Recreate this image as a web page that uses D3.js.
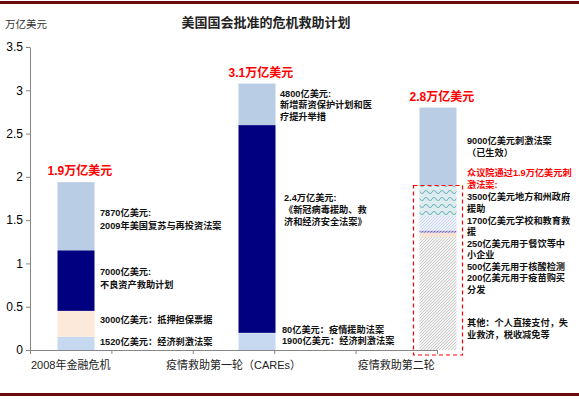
<!DOCTYPE html>
<html>
<head>
<meta charset="utf-8">
<script src="https://cdn.jsdelivr.net/npm/d3@7"></script>
<style>
  body { margin: 0; background: #fff; }
  text { font-family: "Liberation Sans", "Noto Sans CJK SC", sans-serif; }
</style>
</head>
<body>
<div id="chart"></div>
<script>
// data (units: trillion USD)
var categories = ['2008年金融危机', '疫情救助第一轮（CAREs）', '疫情救助第二轮'];
var totals = ['1.9万亿美元', '3.1万亿美元', '2.8万亿美元'];
// stacked segments, bottom to top
var seg2008 = [0.152, 0.300, 0.700, 0.787];
var segCares = [0.190, 0.008, 2.400, 0.480];
var segRound2 = [1.285, 0.020, 0.050, 0.025, 0.170, 0.350, 0.900];
var fill2008 = ['#c6d9f1', '#fde9d9', '#000080', '#b9cde5'];
var fillCares = ['#c6d9f1', '#c6d9f1', '#000080', '#b9cde5'];
var fillRound2 = ['url(#pGray)', 'url(#pGray)', '#f6e3d6', 'url(#pPurple)', 'url(#pBlue)', 'url(#pWave)', '#b9cde5'];
var yTicks = [0, 0.5, 1, 1.5, 2, 2.5, 3, 3.5];

// annotation text: [x, y, text, color]
var notes = [
  [100, 216, '7870亿美元:'], [100, 229, '2009年美国复苏与再投资法案'],
  [100, 275, '7000亿美元:'], [100, 288, '不良资产救助计划'],
  [100, 323, '3000亿美元：抵押担保票据'],
  [100, 345, '1520亿美元：经济刹激法案'],
  [280, 97, '4800亿美元:'], [280, 108, '新增薪资保护计划和医'], [280, 120, '疗提升举措'],
  [284, 201, '2.4万亿美元:'], [284, 213, '《新冠病毒援助、救'], [284, 225, '济和经济安全法案》'],
  [282, 333, '80亿美元：疫情援助法案'],
  [282, 344, '1900亿美元：经济刺激法案'],
  [467, 144, '9000亿美元刺激法案'], [467, 156, '（已生效）'],
  [467, 176, '众议院通过1.9万亿美元刺', '#ff0000'], [467, 188, '激法案:', '#ff0000'],
  [467, 200, '3500亿美元地方和州政府'], [467, 212, '援助'],
  [467, 224, '1700亿美元学校和教育救'], [467, 235, '援'],
  [467, 247, '250亿美元用于餐饮等中'], [467, 258, '小企业'],
  [467, 270, '500亿美元用于核酸检测'], [467, 281, '200亿美元用于疫苗购买'], [467, 293, '分发'],
  [467, 326, '其他：个人直接支付，失'], [467, 338, '业救济，税收减免等']
];

var W = 579, H = 399;
var svg = d3.select('#chart').append('svg').attr('width', W).attr('height', H);

// patterns
var defs = svg.append('defs');
var pg = defs.append('pattern').attr('id', 'pGray').attr('patternUnits', 'userSpaceOnUse')
  .attr('width', 3).attr('height', 3);
pg.append('rect').attr('width', 3).attr('height', 3).attr('fill', '#f3f3f3');
pg.append('path').attr('d', 'M0,3 L3,0').attr('stroke', '#c6c6c6').attr('stroke-width', 0.9);
var pb = defs.append('pattern').attr('id', 'pBlue').attr('patternUnits', 'userSpaceOnUse')
  .attr('width', 3).attr('height', 3);
pb.append('rect').attr('width', 3).attr('height', 3).attr('fill', '#eef3fb');
pb.append('path').attr('d', 'M0,3 L3,0').attr('stroke', '#bccbe8').attr('stroke-width', 0.8);
var pp = defs.append('pattern').attr('id', 'pPurple').attr('patternUnits', 'userSpaceOnUse')
  .attr('width', 3).attr('height', 3);
pp.append('rect').attr('width', 3).attr('height', 3).attr('fill', '#b6b0dc');
pp.append('path').attr('d', 'M0,3 L3,0').attr('stroke', '#6a62b4').attr('stroke-width', 0.9);
var pw = defs.append('pattern').attr('id', 'pWave').attr('patternUnits', 'userSpaceOnUse')
  .attr('width', 8).attr('height', 7);
pw.append('rect').attr('width', 8).attr('height', 7).attr('fill', '#dcecef');
pw.append('path').attr('d', 'M0,3 Q2,0 4,3 T8,3').attr('fill', 'none')
  .attr('stroke', '#7ab6bf').attr('stroke-width', 1.1);

// frame lines
svg.append('rect').attr('x', 0).attr('y', 1).attr('width', W).attr('height', 3).attr('fill', '#6b0a0a');
svg.append('rect').attr('x', 0).attr('y', 393).attr('width', W).attr('height', 3).attr('fill', '#6b0a0a');

// title and unit
svg.append('text').attr('x', 266).attr('y', 27).attr('text-anchor', 'middle')
  .style('font-size', '13px').style('font-weight', 'bold').attr('fill', '#222')
  .text('美国国会批准的危机救助计划');
svg.append('text').attr('x', 5).attr('y', 28).style('font-size', '10.5px').attr('fill', '#333')
  .text('万亿美元');

// scales
var y = d3.scaleLinear().domain([0, 3.5]).range([350, 47]);
var xSlot = d3.scaleLinear().domain([0, 5]).range([30, 437]);
var xBar = d3.scalePoint().domain(categories).range([76, 438]);
var barW = 37;

// y axis
var yAxis = svg.append('g').attr('transform', 'translate(30,0)')
  .call(d3.axisLeft(y).tickValues(yTicks).tickSize(4).tickSizeOuter(0).tickFormat(function(d){ return String(d); }));
yAxis.select('.domain').attr('stroke', '#868686');
yAxis.selectAll('.tick line').attr('stroke', '#868686');
yAxis.selectAll('.tick text').style('font-size', '12px').attr('fill', '#000').attr('x', -7);

// x axis
var xAxis = svg.append('g').attr('transform', 'translate(0,350)')
  .call(d3.axisBottom(xSlot).ticks(5).tickSize(4).tickSizeOuter(0).tickFormat(''));
xAxis.select('.domain').attr('stroke', '#868686');
xAxis.selectAll('.tick line').attr('stroke', '#868686');

var labelSlots = [0.5, 2.5, 4.5];
svg.selectAll('.cat').data(categories).enter().append('text')
  .attr('x', function(d, i){ return xSlot(labelSlots[i]); })
  .attr('y', 369).attr('text-anchor', 'middle')
  .style('font-size', '11px').attr('fill', '#222')
  .text(function(d){ return d; });

// stacked bars
function drawStack(cat, values, fills){
  var base = 0;
  var rows = values.map(function(v, i){
    var r = { y0: base, y1: base + v, fill: fills[i] };
    base += v;
    return r;
  });
  svg.append('g').selectAll('rect').data(rows).enter().append('rect')
    .attr('x', xBar(cat) - barW / 2)
    .attr('width', barW)
    .attr('y', function(d){ return y(d.y1); })
    .attr('height', function(d){ return y(d.y0) - y(d.y1); })
    .attr('fill', function(d){ return d.fill; });
  return base;
}
var tops = [
  drawStack(categories[0], seg2008, fill2008),
  drawStack(categories[1], segCares, fillCares),
  drawStack(categories[2], segRound2, fillRound2)
];

// totals
svg.selectAll('.total').data(totals).enter().append('text')
  .attr('x', function(d, i){ return xBar(categories[i]) - barW / 2 - 10; })
  .attr('y', function(d, i){ return y(tops[i]) - 7; })
  .style('font-size', '12px').style('font-weight', 'bold').attr('fill', '#ff0000')
  .text(function(d){ return d; });

// dashed box around second-round proposal
var proposal = d3.sum(segRound2.slice(0, 6));
svg.append('rect')
  .attr('x', xBar(categories[2]) - barW / 2 - 6)
  .attr('width', barW + 12)
  .attr('y', y(proposal))
  .attr('height', y(0) - y(proposal) + 5)
  .attr('fill', 'none').attr('stroke', '#ff0000').attr('stroke-width', 1.2)
  .attr('stroke-dasharray', '4,3');

// annotations
svg.selectAll('.note').data(notes).enter().append('text')
  .attr('x', function(d){ return d[0]; })
  .attr('y', function(d){ return d[1]; })
  .style('font-size', '9.2px').style('font-weight', 'bold')
  .attr('fill', function(d){ return d[3] || '#111'; })
  .text(function(d){ return d[2]; });
</script>
</body>
</html>
